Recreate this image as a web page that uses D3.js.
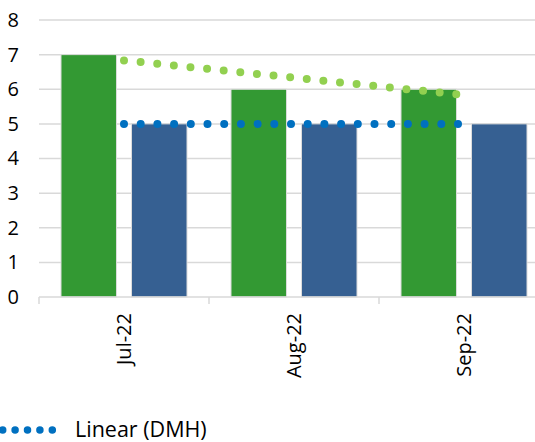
<!DOCTYPE html>
<html>
<head>
<meta charset="utf-8">
<script src="https://cdn.jsdelivr.net/npm/d3@7"></script>
<style>
  html, body { margin: 0; padding: 0; background: #fff; overflow: hidden; }
  svg { display: block; font-family: "Open Sans", sans-serif; }
</style>
</head>
<body>
<svg id="chart" width="535" height="442"></svg>
<script>
// Monthly values for the two series
const categories = ["Jul-22", "Aug-22", "Sep-22"];
const seriesNames = ["Series 1", "DMH"];
const series1Values = [7, 6, 6];
const dmhValues = [5, 5, 5];
const yTicks = [0, 1, 2, 3, 4, 5, 6, 7, 8];
const legendLabel = "Linear (DMH)";

const barColors = ["#339933", "#366092"];
const trendColors = ["#92D050", "#0070C0"];

const svg = d3.select("#chart");
const plot = { left: 39, right: 549, top: 20, bottom: 297 };

const x = d3.scaleBand().domain(categories).range([plot.left, plot.right]).padding(0);
const xInner = d3.scaleBand().domain(seriesNames)
  .range([0, x.bandwidth()]).paddingInner(0.213).paddingOuter(0.312);
const y = d3.scaleLinear().domain([0, 8]).range([plot.bottom, plot.top]);

// Horizontal gridlines
svg.append("g").selectAll("line").data(yTicks.filter(d => d > 0)).join("line")
  .attr("x1", plot.left).attr("x2", plot.right)
  .attr("y1", d => y(d)).attr("y2", d => y(d))
  .attr("stroke", "#d9d9d9").attr("stroke-width", 1.5);

// Y axis labels
const yAxis = d3.axisLeft(y).tickValues(yTicks).tickSize(0).tickPadding(20)
  .tickFormat(d3.format("d"));
const gy = svg.append("g").attr("transform", `translate(${plot.left},0)`).call(yAxis);
gy.select(".domain").remove();
gy.selectAll("text").attr("font-size", 20).attr("fill", "#000")
  .attr("font-family", "Open Sans, sans-serif");

// Bars
const table = categories.map((c, i) => ({ cat: c, values: [series1Values[i], dmhValues[i]] }));
const groups = svg.append("g").selectAll("g").data(table).join("g")
  .attr("transform", d => `translate(${x(d.cat)},0)`);
groups.selectAll("rect")
  .data(d => d.values.map((v, j) => ({ name: seriesNames[j], value: v, j })))
  .join("rect")
  .attr("x", d => xInner(d.name))
  .attr("width", xInner.bandwidth())
  .attr("y", d => y(d.value))
  .attr("height", d => y(0) - y(d.value))
  .attr("fill", d => barColors[d.j])
  .attr("stroke", "#dcdcdc").attr("stroke-width", 1);

// Category axis with boundary ticks
svg.append("line")
  .attr("x1", plot.left).attr("x2", plot.right)
  .attr("y1", y(0)).attr("y2", y(0))
  .attr("stroke", "#d9d9d9").attr("stroke-width", 1.5);
const boundaries = categories.map(c => x(c)).concat([x(categories[categories.length - 1]) + x.bandwidth()]);
svg.append("g").selectAll("line").data(boundaries).join("line")
  .attr("x1", d => d).attr("x2", d => d)
  .attr("y1", y(0)).attr("y2", y(0) + 7)
  .attr("stroke", "#d9d9d9").attr("stroke-width", 1.5);

const xAxis = d3.axisBottom(x).tickSize(0).tickPadding(0);
const gx = svg.append("g").attr("transform", `translate(0,${plot.bottom})`).call(xAxis);
gx.select(".domain").remove();
gx.selectAll("text")
  .attr("font-size", 20).attr("fill", "#000").attr("font-family", "Open Sans, sans-serif")
  .attr("text-anchor", "end")
  .attr("transform", "rotate(-90)")
  .attr("x", -16).attr("y", 0).attr("dy", "0.35em");

// Linear trendlines (least squares over category index)
function linearFit(vals) {
  const xs = vals.map((_, i) => i + 1);
  const mx = d3.mean(xs), my = d3.mean(vals);
  const slope = d3.sum(xs.map((xv, i) => (xv - mx) * (vals[i] - my))) /
                d3.sum(xs.map(xv => (xv - mx) ** 2));
  const icpt = my - slope * mx;
  return xs.map(xv => icpt + slope * xv);
}
const trendLine = d3.line()
  .x((d, i) => x(categories[i]) + x.bandwidth() / 2)
  .y(d => y(d));
[series1Values, dmhValues].forEach((vals, j) => {
  svg.append("path")
    .attr("d", trendLine(linearFit(vals)))
    .attr("fill", "none")
    .attr("stroke", trendColors[j])
    .attr("stroke-width", 8)
    .attr("stroke-linecap", "round")
    .attr("stroke-dasharray", "0 16.7");
});

// Legend
const legend = svg.append("g").attr("transform", "translate(0,430)");
legend.append("line")
  .attr("x1", 2.7).attr("x2", 52.5).attr("y1", 0).attr("y2", 0)
  .attr("stroke", trendColors[1]).attr("stroke-width", 7.5)
  .attr("stroke-linecap", "round").attr("stroke-dasharray", "0 12.4");
legend.append("text")
  .attr("x", 75).attr("y", 0).attr("dy", "0.33em")
  .attr("font-size", 21.5).attr("fill", "#000")
  .text(legendLabel);
</script>
</body>
</html>
